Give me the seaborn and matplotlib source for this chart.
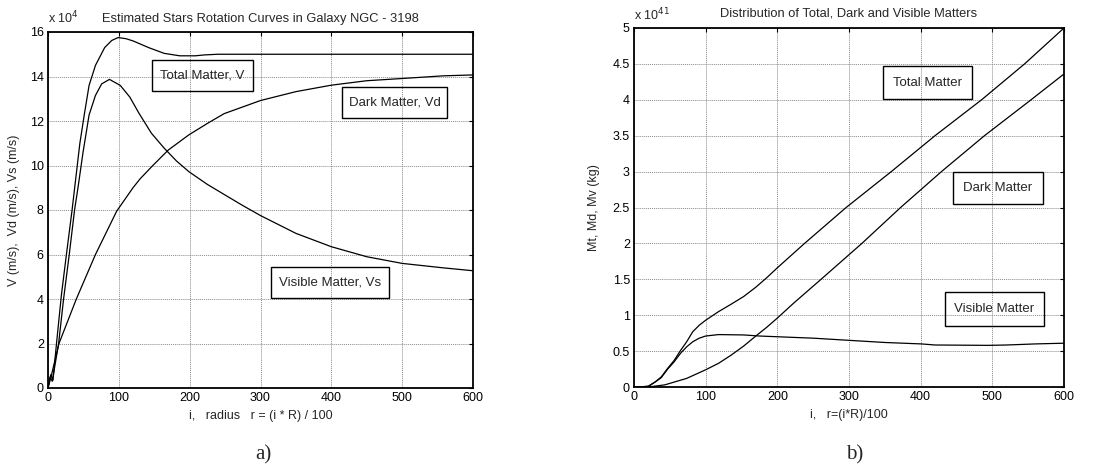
import numpy as np
import pandas as pd
import matplotlib
matplotlib.use("Agg")
import matplotlib.pyplot as plt
import seaborn as sns
from matplotlib.patches import Rectangle
from matplotlib.ticker import FuncFormatter

# ---------------- data: panel a) rotation velocities (units of 1e4 m/s) ----------------
i_total_v = [0, 4, 7, 12, 19, 26, 34, 38, 45, 51.5, 58, 67, 80, 90, 99, 110, 120, 142, 164,
             186, 208, 221, 240, 300, 400, 500, 600]
v_total = [0, 0.6, 0.35, 2.0, 4.2, 6.0, 8.0, 9.1, 11.0, 12.34, 13.6, 14.5, 15.3, 15.62, 15.75,
           15.7, 15.6, 15.3, 15.04, 14.93, 14.93, 14.97, 15.0, 15.0, 15.0, 15.0, 15.0]

i_visible_v = [0, 3, 6, 15, 22, 30, 37.5, 42.7, 49.3, 58, 67, 75.8, 86.8, 102, 115.4, 128.6,
               146, 164, 181.5, 199, 225, 248.6, 275, 300, 350, 400, 450, 500, 558, 600]
v_visible = [0, 0.5, 0.3, 2.0, 4.0, 6.0, 8.0, 9.08, 10.56, 12.27, 13.15, 13.67, 13.87, 13.6,
             13.08, 12.34, 11.45, 10.78, 10.2, 9.72, 9.15, 8.7, 8.2, 7.75, 6.95, 6.35, 5.9,
             5.6, 5.4, 5.27]

i_dark_v = [0, 5, 15.5, 40, 67, 97, 120, 130, 148, 170, 199, 225.5, 248.6, 300, 350, 400, 450,
            500, 558, 600]
v_dark = [0, 0.6, 2.0, 4.0, 6.0, 7.95, 9.0, 9.4, 10.0, 10.7, 11.38, 11.9, 12.33, 12.92, 13.32,
          13.61, 13.81, 13.91, 14.03, 14.07]

# ---------------- data: panel b) mass distribution (units of 1e41 kg) ----------------
i_total_m = [0, 10, 20, 29.5, 38, 47, 56, 65, 73.5, 82, 91, 100, 118, 135, 153, 170, 185, 200,
             238, 296, 359, 420, 485, 545, 600]
m_total = [0, 0.003, 0.01, 0.07, 0.14, 0.26, 0.37, 0.51, 0.63, 0.77, 0.86, 0.93, 1.05, 1.15,
           1.26, 1.39, 1.52, 1.66, 2.0, 2.5, 3.0, 3.5, 4.0, 4.5, 5.0]

i_dark_m = [0, 20, 43, 73.5, 100, 118, 135, 153, 170, 185, 200, 223, 261, 318, 372, 429, 489,
            554, 600]
m_dark = [0, 0.0, 0.03, 0.12, 0.24, 0.33, 0.44, 0.57, 0.71, 0.83, 0.96, 1.17, 1.5, 2.0, 2.5,
          3.0, 3.5, 4.0, 4.36]

i_visible_m = [0, 10, 20, 29.5, 38, 47, 56, 65, 73.5, 82, 91, 100, 118, 153, 175, 200, 250,
               300, 350, 401, 420, 494, 520, 560, 600]
m_visible = [0, 0.003, 0.01, 0.07, 0.13, 0.25, 0.35, 0.47, 0.56, 0.63, 0.68, 0.71, 0.73, 0.725,
             0.71, 0.70, 0.68, 0.65, 0.62, 0.60, 0.585, 0.58, 0.585, 0.60, 0.61]

x_ticks = [0, 100, 200, 300, 400, 500, 600]
y_ticks_a = [0, 2, 4, 6, 8, 10, 12, 14, 16]
y_ticks_b = [0, 0.5, 1, 1.5, 2, 2.5, 3, 3.5, 4, 4.5, 5]

# ---------------- style ----------------
sns.set_theme(style="white")
plt.rcParams["font.family"] = ["Liberation Sans", "DejaVu Sans"]
plt.rcParams["axes.edgecolor"] = "black"

W, H = 1115, 470
fig = plt.figure(figsize=(W / 100, H / 100), dpi=100)
ax1 = fig.add_axes([48 / W, (H - 388) / H, 425 / W, 356 / H])
ax2 = fig.add_axes([634 / W, (H - 387) / H, 430 / W, 359 / H])

line_kw = dict(color="black", linewidth=0.9, estimator=None, sort=False)

sns.lineplot(x=i_total_v, y=v_total, ax=ax1, **line_kw)
sns.lineplot(x=i_visible_v, y=v_visible, ax=ax1, **line_kw)
sns.lineplot(x=i_dark_v, y=v_dark, ax=ax1, **line_kw)

sns.lineplot(x=i_total_m, y=m_total, ax=ax2, **line_kw)
sns.lineplot(x=i_dark_m, y=m_dark, ax=ax2, **line_kw)
sns.lineplot(x=i_visible_m, y=m_visible, ax=ax2, **line_kw)

fmt = FuncFormatter(lambda v, p: "%g" % v)
for ax, yt in ((ax1, y_ticks_a), (ax2, y_ticks_b)):
    ax.set_xlim(0, 600)
    ax.set_ylim(yt[0], yt[-1])
    ax.set_xticks(x_ticks)
    ax.set_yticks(yt)
    ax.yaxis.set_major_formatter(fmt)
    ax.grid(True, color="#8a8a8a", linestyle=(0, (1, 1)), linewidth=0.7)
    ax.tick_params(direction="in", top=True, right=True, length=3, width=0.8,
                   labelsize=9, colors="black", pad=3)
    for s in ax.spines.values():
        s.set_linewidth(1.3)
        s.set_color("black")

ax1.set_title("Estimated Stars Rotation Curves in Galaxy NGC - 3198", fontsize=9.3, pad=7)
ax1.set_xlabel("i,   radius   r = (i * R) / 100", fontsize=9, labelpad=4)
ax1.set_ylabel("V (m/s),  Vd (m/s), Vs (m/s)", fontsize=9, labelpad=7)
ax1.text(0.0, 1.015, r"x 10$^{4}$", transform=ax1.transAxes, fontsize=9, ha="left", va="bottom")

ax2.set_title("Distribution of Total, Dark and Visible Matters", fontsize=9.3, pad=8)
ax2.set_xlabel("i,   r=(i*R)/100", fontsize=9, labelpad=4)
ax2.set_ylabel("Mt, Md, Mv (kg)", fontsize=9, labelpad=9)
ax2.text(0.0, 1.012, r"x 10$^{41}$", transform=ax2.transAxes, fontsize=9, ha="left", va="bottom")

# annotation boxes (pixel positions: x0, x1, y0, y1 from top)
boxes = [
    ("Total Matter, V", 152, 253, 60, 91),
    ("Dark Matter, Vd", 342, 447, 87, 118),
    ("Visible Matter, Vs", 271, 389, 267, 298),
    ("Total Matter", 883, 972, 66, 99),
    ("Dark Matter", 953, 1043, 172, 204),
    ("Visible Matter", 945, 1044, 292, 326),
]
for label, x0, x1, y0, y1 in boxes:
    fig.patches.append(Rectangle((x0 / W, (H - y1) / H), (x1 - x0) / W, (y1 - y0) / H,
                                 transform=fig.transFigure, fill=False, edgecolor="black",
                                 linewidth=1.0))
    fig.text((x0 + x1) / 2 / W, (H - (y0 + y1) / 2) / H, label, ha="center", va="center",
             fontsize=9.5)

fig.text(263 / W, (H - 455) / H, "a)", ha="center", va="center", fontsize=15,
         family=["Liberation Serif", "DejaVu Serif"])
fig.text(855 / W, (H - 455) / H, "b)", ha="center", va="center", fontsize=15,
         family=["Liberation Serif", "DejaVu Serif"])

fig.savefig("out.png", dpi=100, facecolor="white")
